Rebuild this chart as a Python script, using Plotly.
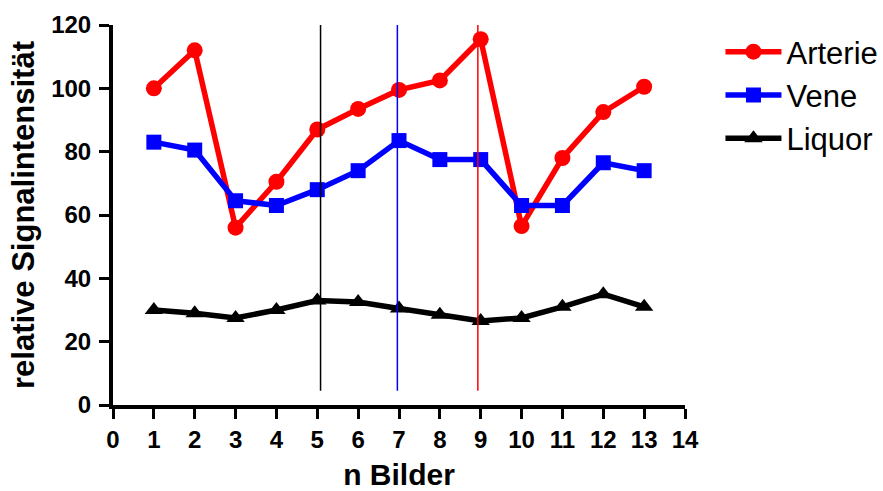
import plotly.graph_objects as go

x_bilder = [1, 2, 3, 4, 5, 6, 7, 8, 9, 10, 11, 12, 13]
arterie = [100, 112, 56, 70.5, 87, 93.5, 99.5, 102.5, 115.5, 56.5, 78, 92.5, 100.5]
vene = [83, 80.5, 64.5, 63, 68, 74, 83.5, 77.5, 77.5, 63, 63, 76.5, 74]
liquor = [30, 29, 27.5, 30, 33, 32.5, 30.5, 28.5, 26.5, 27.5, 31, 35, 31]

vline_x = [5.08, 6.96, 8.93]
vline_colors = ["black", "blue", "red"]
vline_y = [4.5, 121.5]

x_ticks = list(range(0, 15))
y_ticks = [0, 20, 40, 60, 80, 100, 120]

FONT = "Arial, Liberation Sans, sans-serif"

fig = go.Figure()
series = [
    ("Arterie", arterie, "#ff0000", "circle", 16),
    ("Vene", vene, "#0000ff", "square", 15),
    ("Liquor", liquor, "#000000", "triangle-up", 16),
]
for name, vals, col, sym, sz in series:
    fig.add_trace(go.Scatter(
        x=x_bilder, y=vals, name=name, mode="lines+markers",
        line=dict(color=col, width=5.5),
        marker=dict(color=col, symbol=sym, size=sz),
        cliponaxis=False,
    ))

for xv, col in zip(vline_x, vline_colors):
    fig.add_shape(type="line", xref="x", yref="y", x0=xv, x1=xv,
                  y0=vline_y[0], y1=vline_y[1],
                  line=dict(color=col, width=1.5))

fig.update_layout(
    width=883, height=491,
    margin=dict(l=113, r=198, t=25, b=86, autoexpand=False),
    paper_bgcolor="white", plot_bgcolor="white",
    font=dict(family=FONT, color="black"),
    showlegend=True,
    legend=dict(x=1.062, y=1.0, xanchor="left", yanchor="top",
                font=dict(family=FONT, size=31, color="black"),
                itemwidth=56, tracegroupgap=0),
    xaxis=dict(range=[0, 14], tickvals=x_ticks, ticktext=[str(v) for v in x_ticks],
               automargin=False,
               showgrid=False, zeroline=False, showline=True, linecolor="black", linewidth=4,
               ticks="outside", ticklen=10, tickwidth=3, tickcolor="black",
               tickfont=dict(family=FONT, size=24, weight="bold"),
               title=dict(text="n Bilder", font=dict(family=FONT, size=30, weight="bold"), standoff=24)),
    yaxis=dict(range=[0, 120], tickvals=y_ticks, ticktext=[str(v) for v in y_ticks],
               automargin=False,
               showgrid=False, zeroline=False, showline=True, linecolor="black", linewidth=4,
               ticks="outside", ticklen=10, tickwidth=3, tickcolor="black",
               ticklabelstandoff=3,
               tickfont=dict(family=FONT, size=24, weight="bold"),
               title=dict(text="relative Signalintensität", font=dict(family=FONT, size=31, weight="bold"), standoff=8)),
)

fig.write_html("out.html")
